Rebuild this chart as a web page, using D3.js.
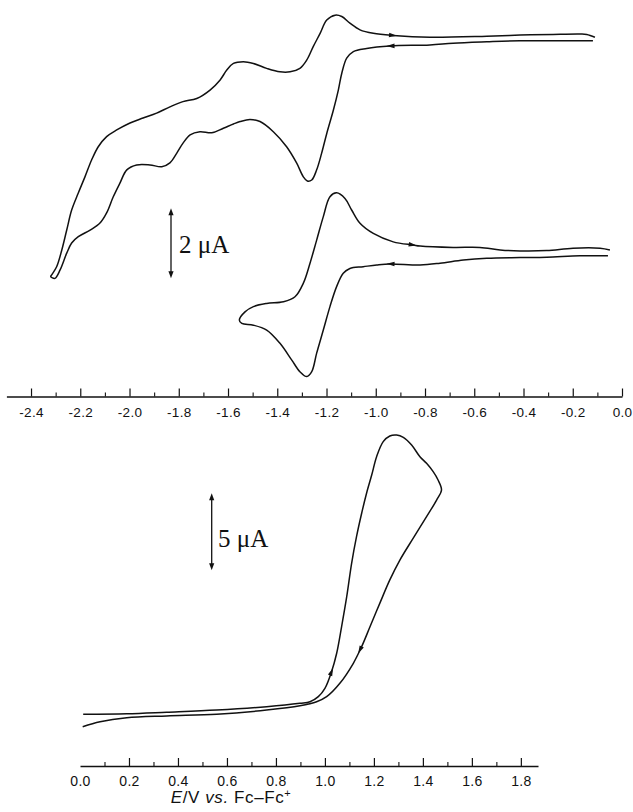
<!DOCTYPE html>
<html>
<head>
<meta charset="utf-8">
<script src="https://cdn.jsdelivr.net/npm/d3@7"></script>
<style>
  body { margin: 0; background: #fff; }
</style>
</head>
<body>
<svg id="chart" width="633" height="812"></svg>
<script>
// 上图 CV1：宽扫描 (E / V, i / µA)，正扫 = 向负电位
let cv1_fwd_E = [-0.118, -0.280, -0.414, -0.549, -0.686, -0.780, -0.942, -1.037, -1.091, -1.118, -1.138, -1.152, -1.172, -1.199, -1.220, -1.240, -1.260, -1.278, -1.294, -1.321, -1.362, -1.416, -1.470, -1.511, -1.551, -1.578, -1.619, -1.666, -1.714, -1.754, -1.782, -1.808, -1.836, -1.869, -1.917, -1.971, -2.011, -2.039, -2.066, -2.093, -2.120, -2.160, -2.208, -2.235, -2.255, -2.282, -2.303, -2.320];
let cv1_fwd_I = [-0.02, -0.02, -0.02, -0.05, -0.09, -0.14, -0.17, -0.24, -0.33, -0.52, -0.95, -1.43, -2.00, -2.67, -3.24, -3.71, -4.00, -4.03, -3.91, -3.52, -3.05, -2.62, -2.33, -2.27, -2.33, -2.40, -2.52, -2.65, -2.62, -2.71, -2.94, -3.23, -3.51, -3.62, -3.57, -3.57, -3.71, -4.09, -4.48, -4.94, -5.23, -5.43, -5.62, -5.80, -6.09, -6.57, -6.81, -6.76];
let cv1_rev_E = [-2.316, -2.296, -2.275, -2.255, -2.235, -2.208, -2.181, -2.154, -2.127, -2.093, -2.052, -1.998, -1.945, -1.890, -1.836, -1.783, -1.727, -1.673, -1.632, -1.605, -1.578, -1.538, -1.497, -1.443, -1.389, -1.348, -1.308, -1.280, -1.254, -1.226, -1.199, -1.165, -1.138, -1.105, -1.064, -1.010, -0.929, -0.780, -0.549, -0.414, -0.280, -0.171, -0.143, -0.110];
let cv1_rev_I = [-6.71, -6.48, -6.00, -5.43, -4.86, -4.37, -3.91, -3.43, -3.05, -2.76, -2.57, -2.37, -2.23, -2.09, -1.91, -1.76, -1.67, -1.43, -1.14, -0.86, -0.67, -0.62, -0.67, -0.81, -0.91, -0.91, -0.81, -0.57, -0.19, 0.19, 0.57, 0.71, 0.67, 0.48, 0.29, 0.19, 0.13, 0.08, 0.11, 0.14, 0.16, 0.17, 0.16, 0.08];
let cv1_arrows = [{ branch: 'fwd', E: -0.94 }, { branch: 'rev', E: -0.93 }];

// 上图 CV2：窄扫描
let cv2_fwd_E = [-0.057, -0.171, -0.306, -0.414, -0.549, -0.644, -0.739, -0.820, -0.942, -0.996, -1.051, -1.105, -1.132, -1.159, -1.186, -1.213, -1.240, -1.260, -1.280, -1.308, -1.341, -1.389, -1.443, -1.497, -1.544, -1.554];
let cv2_fwd_I = [-0.11, -0.11, -0.15, -0.16, -0.18, -0.23, -0.32, -0.37, -0.34, -0.37, -0.42, -0.47, -0.61, -0.99, -1.56, -2.23, -2.89, -3.42, -3.56, -3.42, -3.09, -2.61, -2.23, -2.09, -2.04, -1.94];
let cv2_rev_E = [-1.531, -1.497, -1.443, -1.375, -1.328, -1.294, -1.267, -1.240, -1.213, -1.186, -1.159, -1.125, -1.098, -1.064, -1.010, -0.929, -0.848, -0.820, -0.686, -0.577, -0.495, -0.414, -0.306, -0.199, -0.089, -0.049];
let cv2_rev_I = [-1.71, -1.56, -1.47, -1.42, -1.28, -0.89, -0.32, 0.34, 1.01, 1.58, 1.69, 1.53, 1.20, 0.82, 0.53, 0.29, 0.20, 0.17, 0.13, 0.13, 0.06, 0.03, 0.04, 0.11, 0.11, 0.06];
let cv2_arrows = [{ branch: 'fwd', E: -0.94 }, { branch: 'rev', E: -0.85 }];

// 下图 CV3：氧化扫描
let cv3_fwd_E = [0.013, 0.191, 0.354, 0.558, 0.762, 0.898, 0.939, 0.973, 1.000, 1.027, 1.048, 1.068, 1.089, 1.109, 1.129, 1.150, 1.170, 1.191, 1.211, 1.238, 1.265, 1.293, 1.320, 1.354, 1.388, 1.415, 1.442, 1.462, 1.476];
let cv3_fwd_I = [0.05, 0.08, 0.18, 0.32, 0.54, 0.76, 0.86, 1.19, 1.73, 2.81, 4.01, 5.73, 7.68, 9.85, 11.58, 13.10, 14.40, 15.58, 16.77, 17.75, 18.12, 18.18, 18.03, 17.53, 16.77, 16.34, 15.80, 15.26, 14.61];
let cv3_rev_E = [1.456, 1.415, 1.360, 1.306, 1.265, 1.224, 1.184, 1.150, 1.116, 1.061, 1.007, 0.966, 0.898, 0.762, 0.558, 0.354, 0.191, 0.082, 0.011];
let cv3_rev_I = [13.96, 12.88, 11.47, 10.06, 8.77, 7.25, 5.73, 4.44, 3.36, 2.06, 1.19, 0.86, 0.60, 0.32, 0.05, -0.06, -0.18, -0.44, -0.76];
let cv3_arrows = [{ branch: 'fwd', E: 1.027 }, { branch: 'rev', E: 1.143 }];

// 刻度
let top_ticks = [-2.4, -2.2, -2.0, -1.8, -1.6, -1.4, -1.2, -1.0, -0.8, -0.6, -0.4, -0.2, 0.0];
let top_minor = [-2.3, -2.1, -1.9, -1.7, -1.5, -1.3, -1.1, -0.9, -0.7, -0.5, -0.3, -0.1];
let bottom_ticks = [0.0, 0.2, 0.4, 0.6, 0.8, 1.0, 1.2, 1.4, 1.6, 1.8];
let bottom_minor = [0.1, 0.3, 0.5, 0.7, 0.9, 1.1, 1.3, 1.5, 1.7];
let top_bar_uA = 2;
let bottom_bar_uA = 5;

let svg = d3.select('#chart');

// 映射
let xTop = d3.scaleLinear([-2.5, 0.0], [6.4, 622]);
let yTop = d3.scaleLinear([0, 2], [0, -70]);
let xBot = d3.scaleLinear([0.0, 1.87], [80, 538]);
let yBot = d3.scaleLinear([0, 5], [0, -77]);

let line = d3.line().curve(d3.curveCatmullRom.alpha(0.5));

function draw_cv(ty, fwdE, fwdI, revE, revI, x, y, arrows) {
    let g = svg.append('g').attr('transform', `translate(0,${ty})`);
    let fwd = fwdE.map((e, i) => [x(e), y(fwdI[i])]);
    let rev = revE.map((e, i) => [x(e), y(revI[i])]);
    g.append('path')
        .attr('d', line(fwd.concat(rev)))
        .attr('fill', 'none')
        .attr('stroke', '#111')
        .attr('stroke-width', 1.5)
        .attr('stroke-linejoin', 'round');

    // 扫描方向箭头
    arrows.forEach(a => {
        let pts = a.branch === 'fwd' ? fwd : rev;
        let es = a.branch === 'fwd' ? fwdE : revE;
        for (let i = 0; i < es.length - 1; i++) {
            if ((es[i] - a.E) * (es[i + 1] - a.E) <= 0) {
                let t = (a.E - es[i]) / (es[i + 1] - es[i]);
                let px = pts[i][0] + t * (pts[i + 1][0] - pts[i][0]);
                let py = pts[i][1] + t * (pts[i + 1][1] - pts[i][1]);
                let ang = Math.atan2(pts[i + 1][1] - pts[i][1], pts[i + 1][0] - pts[i][0]) * 180 / Math.PI;
                g.append('path')
                    .attr('d', 'M4,0 L-4,-2.3 L-4,2.3 Z')
                    .attr('transform', `translate(${px},${py}) rotate(${ang})`)
                    .attr('fill', '#111');
                break;
            }
        }
    });
}

draw_cv(40, cv1_fwd_E, cv1_fwd_I, cv1_rev_E, cv1_rev_I, xTop, yTop, cv1_arrows);
draw_cv(252, cv2_fwd_E, cv2_fwd_I, cv2_rev_E, cv2_rev_I, xTop, yTop, cv2_arrows);
draw_cv(715, cv3_fwd_E, cv3_fwd_I, cv3_rev_E, cv3_rev_I, xBot, yBot, cv3_arrows);

// 坐标轴：刻度朝上，标签在下
function draw_axis(ty, x, major, minor, fontSize, hideFirst) {
    let g = svg.append('g').attr('transform', `translate(0,${ty})`);
    g.call(d3.axisBottom(x).tickValues(major).tickSizeInner(-8).tickSizeOuter(0)
        .tickPadding(10.5).tickFormat(d => d.toFixed(1)));
    g.select('.domain').attr('stroke', '#111').attr('stroke-width', 1.3);
    g.selectAll('.tick line').attr('stroke', '#111').attr('stroke-width', 1.2);
    if (hideFirst) g.selectAll('.tick line').filter(d => d === major[0]).remove();
    g.selectAll('.tick text')
        .attr('fill', '#111')
        .style('font-family', '"Liberation Sans", Arial, sans-serif')
        .style('font-size', fontSize + 'px')
        .style('letter-spacing', '0.3px');
    let m = svg.append('g').attr('transform', `translate(0,${ty})`);
    m.call(d3.axisBottom(x).tickValues(minor).tickSizeInner(-4).tickSizeOuter(0).tickFormat(''));
    m.select('.domain').remove();
    m.selectAll('.tick line').attr('stroke', '#111').attr('stroke-width', 1.1);
}

draw_axis(396.5, xTop, top_ticks, top_minor, 13.5, false);
draw_axis(766, xBot, bottom_ticks, bottom_minor, 14, true);

// 电流标尺
function draw_bar(cx, cy, y, uA, tx, tyBase) {
    let g = svg.append('g').attr('transform', `translate(${cx},${cy})`);
    let h = Math.abs(y(uA) - y(0)) / 2;
    g.append('line').attr('y1', -h + 5).attr('y2', h - 5)
        .attr('stroke', '#111').attr('stroke-width', 1.3);
    g.append('path').attr('d', `M0,${-h} L-2.6,${-h + 7} L2.6,${-h + 7} Z`).attr('fill', '#111');
    g.append('path').attr('d', `M0,${h} L-2.6,${h - 7} L2.6,${h - 7} Z`).attr('fill', '#111');
    svg.append('text')
        .attr('x', tx).attr('y', tyBase)
        .style('font-family', '"Liberation Serif", "Times New Roman", serif')
        .style('font-size', '25px')
        .attr('fill', '#111')
        .text(uA + ' μA');
}

draw_bar(171, 243.3, yTop, top_bar_uA, 179, 253.3);
draw_bar(211.7, 531.7, yBot, bottom_bar_uA, 218, 546.5);

// 横轴标题
let title = svg.append('text')
    .attr('x', 231).attr('y', 803)
    .attr('text-anchor', 'middle')
    .attr('fill', '#111')
    .style('font-family', '"Liberation Sans", Arial, sans-serif')
    .style('font-size', '17px')
    .style('letter-spacing', '0.6px');
title.append('tspan').style('font-style', 'italic').text('E');
title.append('tspan').text('/V ');
title.append('tspan').style('font-style', 'italic').text('vs.');
title.append('tspan').text(' Fc–Fc');
title.append('tspan').attr('dy', -6).style('font-size', '11px').text('+');
</script>
</body>
</html>
